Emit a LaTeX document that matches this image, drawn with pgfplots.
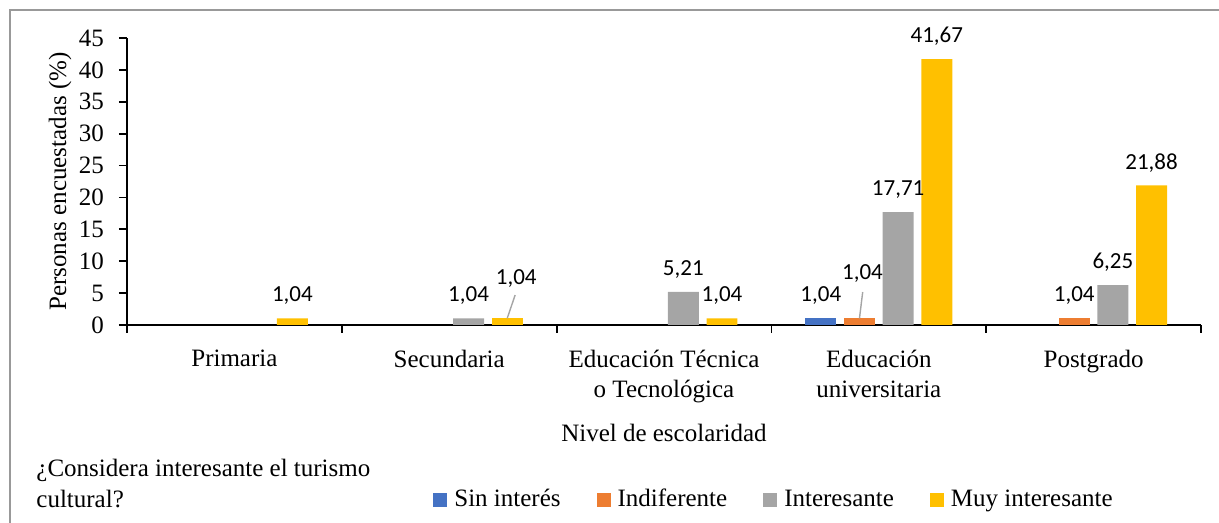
\documentclass[border=0pt]{standalone}
\usepackage{fontspec}
\setmainfont{Liberation Serif}
\newfontfamily\labelfont{Carlito}
\usepackage{pgfplots}
\pgfplotsset{compat=1.18}
\definecolor{sininteres}{HTML}{4472C4}
\definecolor{indiferente}{HTML}{ED7D31}
\definecolor{interesante}{HTML}{A5A5A5}
\definecolor{muyint}{HTML}{FFC000}

\begin{document}
\begin{tikzpicture}[font=\fontsize{12.5}{15}\selectfont]
\useasboundingbox (-63.5pt,-99pt) rectangle (546pt,162.5pt);
\draw[gray!80, line width=0.8pt] (-58.5pt,-99pt) -- (-58.5pt,157.5pt) -- (546pt,157.5pt);
\begin{axis}[
    scale only axis,
    width=537pt, height=143.5pt,
    ybar, bar width=0.144,
    xmin=-0.5, xmax=4.5,
    ymin=0, ymax=45,
    clip=false,
    axis x line*=bottom, axis y line*=left,
    axis line style={-, line width=0.9pt, black},
    ytick={0,5,...,45},
    xtick={0,1,2,3,4},
    xticklabels={Primaria, Secundaria, {Educación Técnica\\o Tecnológica}, {Educación\\universitaria}, Postgrado},
    minor xtick={-0.5,0.5,1.5,2.5,3.5,4.5},
    tick align=outside,
    major tick length=4pt, minor tick length=4pt,
    tick style={black, line width=0.9pt},
    major x tick style={draw=none},
    x tick label style={align=center, anchor=north, yshift=-5pt, font=\fontsize{12.5}{15}\selectfont},
    y tick label style={xshift=-4pt, font=\fontsize{12.5}{15}\selectfont},
    /pgf/number format/assume math mode=true,
    xlabel={Nivel de escolaridad},
    ylabel={Personas encuestadas (\%)},
    every axis x label/.style={at={(axis description cs:0.5,0)}, anchor=base, yshift=-58.5pt},
    every axis y label/.style={at={(axis description cs:0,0.5)}, xshift=-33.5pt, rotate=90, anchor=center},
    nodes near coords={\pgfmathprintnumber[fixed,fixed zerofill,precision=2,use comma,assume math mode=true]{\pgfplotspointmeta}},
    every node near coord/.append style={font={\labelfont\fontsize{11.5}{12}\selectfont}, inner sep=0pt, text depth=0pt, anchor=south, yshift=8pt, black},
    legend columns=4,
    legend cell align=left,
    legend image code/.code={\fill[#1] (0pt,0pt) rectangle (7pt,7pt);},
    legend style={at={(axis description cs:0.2849,0)}, anchor=south west, yshift=-93.7pt,
        draw=none, fill=none, inner sep=0pt, font=\fontsize{12.5}{15}\selectfont,
        nodes={inner sep=0pt, text height=8.6pt, text depth=2.7pt, anchor=base west},
        /tikz/every odd column/.append style={column sep=3.5pt},
        /tikz/every even column/.append style={column sep=18pt}},
]
% Sin interés
\addplot[fill=sininteres, draw=none, bar shift=-0.27] coordinates {(3,1.04)};
\addlegendentry{Sin interés}
% Indiferente
\addplot[fill=indiferente, draw=none, bar shift=-0.09] coordinates {(4,1.04)};
\addlegendentry{Indiferente}
% Interesante
\addplot[fill=interesante, draw=none, bar shift=0.09] coordinates {(1,1.04) (2,5.21) (3,17.71) (4,6.25)};
\addlegendentry{Interesante}
% Muy interesante
\addplot[fill=muyint, draw=none, bar shift=0.27] coordinates {(0,1.04) (2,1.04) (3,41.67) (4,21.88)};
\addlegendentry{Muy interesante}
% bars whose labels are moved off the bar
\addplot[fill=muyint, draw=none, bar shift=0.27, forget plot,
    nodes near coords style={xshift=4.5pt, yshift=8.5pt}] coordinates {(1,1.04)};
\addplot[fill=indiferente, draw=none, bar shift=-0.09, forget plot,
    nodes near coords style={xshift=1.5pt, yshift=11pt}] coordinates {(3,1.04)};
% leader lines
\draw[interesante, line width=0.7pt] (axis cs:1.27,1.04) -- (axis cs:1.307,4.7);
\draw[interesante, line width=0.7pt] (axis cs:2.91,1.04) -- (axis cs:2.925,5.17);
% legend title
\node[anchor=base west, inner sep=0pt, xshift=-45.5pt, yshift=-75.5pt] at (axis description cs:0,0) {¿Considera interesante el turismo};
\node[anchor=base west, inner sep=0pt, xshift=-45.5pt, yshift=-91pt] at (axis description cs:0,0) {cultural?};
\end{axis}
\end{tikzpicture}
\end{document}
